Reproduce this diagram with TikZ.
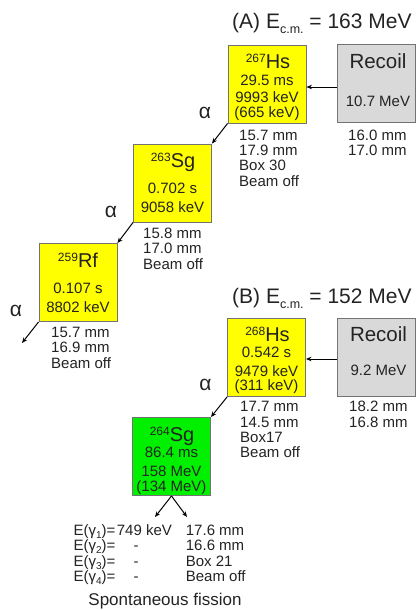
\documentclass[tikz,border=0pt]{standalone}
\usepackage{fontspec}
\setmainfont{Liberation Sans}
\usetikzlibrary{arrows.meta}
\definecolor{boxyellow}{RGB}{255,255,0}
\definecolor{boxgreen}{RGB}{0,240,0}
\definecolor{recoilgray}{RGB}{217,217,217}
\definecolor{edgegray}{RGB}{115,115,115}
\definecolor{txt}{RGB}{35,35,35}
\newcommand{\isot}[2]{\raisebox{6pt}{\fontsize{12}{12}\selectfont #1}#2}
\newcommand{\gam}[1]{E(γ\raisebox{-3pt}{\fontsize{10}{10}\selectfont #1})=}
\begin{document}
\begin{tikzpicture}[x=1pt,y=-1pt,
  nuc/.style={draw=edgegray,line width=0.9pt,minimum width=78pt,minimum height=78pt,inner sep=0pt},
  lbl/.style={anchor=base,inner sep=0pt,font=\fontsize{15}{15}\selectfont,text=txt},
  lblw/.style={anchor=base west,inner sep=0pt,font=\fontsize{15}{15}\selectfont,text=txt},
  big/.style={anchor=base,inner sep=0pt,font=\fontsize{20}{20}\selectfont,text=txt},
  titl/.style={anchor=base west,inner sep=0pt,font=\fontsize{21}{21}\selectfont,text=txt},
  alph/.style={inner sep=0pt,font=\fontsize{21}{21}\selectfont,text=txt},
  decay/.style={-{Stealth[length=5.5pt,width=4.5pt]},line width=1pt,black}]
\useasboundingbox (0,0) rectangle (419,610);

% ---------- (A) ----------
\node[titl] (titA) at (232,28.5) {(A) E\raisebox{-5pt}{\fontsize{12.5}{12.5}\selectfont c.m.} = 163 MeV};

\node[nuc,fill=boxyellow] (hsA) at (267,84) {};
\node[nuc,fill=recoilgray] (recA) at (376,83) {};
\node[nuc,fill=boxyellow] (sgA) at (172.5,183) {};
\node[nuc,fill=boxyellow] (rfA) at (78,282.5) {};

\node[big] (hsAn) at (268,68.3) {\isot{267}{Hs}};
\node[lbl] (hsAt) at (267,85) {29.5 ms};
\node[lbl] (hsAe) at (267,102.5) {9993 keV};
\node[lbl] (hsAg) at (267,117.2) {(665 keV)};
\node[lblw] (hsAo1) at (239,140) {15.7 mm};
\node[lblw] (hsAo2) at (239,155.4) {17.9 mm};
\node[lblw] (hsAo3) at (239,170.8) {Box 30};
\node[lblw] (hsAo4) at (239,186.2) {Beam off};

\node[big,font=\fontsize{20.5}{20.5}\selectfont] (recAn) at (378,68.3) {Recoil};
\node[lbl] (recAe) at (378,106.7) {10.7 MeV};
\node[lblw] (recAo1) at (348,140) {16.0 mm};
\node[lblw] (recAo2) at (348,155.4) {17.0 mm};

\node[big] (sgAn) at (173,167) {\isot{263}{Sg}};
\node[lbl] (sgAt) at (172.5,193) {0.702 s};
\node[lbl] (sgAe) at (172.5,212) {9058 keV};
\node[lblw] (sgAo1) at (143,238) {15.8 mm};
\node[lblw] (sgAo2) at (143,253.5) {17.0 mm};
\node[lblw] (sgAo3) at (143,269) {Beam off};

\node[big] (rfAn) at (78,267.7) {\isot{259}{Rf}};
\node[lbl] (rfAt) at (78,293) {0.107 s};
\node[lbl] (rfAe) at (78,312) {8802 keV};
\node[lblw] (rfAo1) at (51,337) {15.7 mm};
\node[lblw] (rfAo2) at (51,352.5) {16.9 mm};
\node[lblw] (rfAo3) at (51,368) {Beam off};

\node[alph] (alA1) at (205,112.5) {α};
\node[alph] (alA2) at (111,212) {α};
\node[alph] (alA3) at (16,311) {α};

\coordinate (rfOut) at (22,343);
\draw[decay] ([yshift=-4pt]recA.west) -- ([yshift=-3pt]hsA.east);
\draw[decay] (hsA.south west) -- (sgA.north east);
\draw[decay] (sgA.south west) -- (rfA.north east);
\draw[decay] (rfA.south west) -- (rfOut);

% ---------- (B) ----------
\node[titl] (titB) at (232,303) {(B) E\raisebox{-5pt}{\fontsize{12.5}{12.5}\selectfont c.m.} = 152 MeV};

\node[nuc,fill=boxyellow] (hsB) at (266.5,357.5) {};
\node[nuc,fill=recoilgray] (recB) at (376.5,357.5) {};
\node[nuc,fill=boxgreen] (sgB) at (171.5,456.5) {};

\node[big] (hsBn) at (267.5,341.7) {\isot{268}{Hs}};
\node[lbl] (hsBt) at (266.5,357.3) {0.542 s};
\node[lbl] (hsBe) at (266.5,376.2) {9479 keV};
\node[lbl] (hsBg) at (266.5,390.6) {(311 keV)};
\node[lblw] (hsBo1) at (240,411.7) {17.7 mm};
\node[lblw] (hsBo2) at (240,427.1) {14.5 mm};
\node[lblw] (hsBo3) at (240,442.5) {Box17};
\node[lblw] (hsBo4) at (240,457.9) {Beam off};

\node[big,font=\fontsize{20.5}{20.5}\selectfont] (recBn) at (378.5,341.7) {Recoil};
\node[lbl] (recBe) at (378.5,375) {9.2 MeV};
\node[lblw] (recBo1) at (349,411.7) {18.2 mm};
\node[lblw] (recBo2) at (349,427.1) {16.8 mm};

\node[big] (sgBn) at (172,441.7) {\isot{264}{Sg}};
\node[lbl] (sgBt) at (171.5,457.3) {86.4 ms};
\node[lbl] (sgBe) at (171.5,476.8) {158 MeV};
\node[lbl] (sgBg) at (171.5,491.2) {(134 MeV)};

\node[alph] (alB1) at (205.5,385) {α};

\draw[decay] ([yshift=-1.5pt]recB.west) -- ([yshift=-1.5pt]hsB.east);
\draw[decay] (hsB.south west) -- (sgB.north east);

\coordinate (fisL) at (155,517);
\coordinate (fisR) at (187,517);
\draw[decay] (sgB.south) -- (fisL);
\draw[decay] (sgB.south) -- (fisR);

\node[lblw] (g1) at (73.3,535) {\gam{1}};
\node[lblw] (g2) at (73.3,550.5) {\gam{2}};
\node[lblw] (g3) at (73.3,566) {\gam{3}};
\node[lblw] (g4) at (73.3,581.5) {\gam{4}};
\node[lblw] (g1v) at (116.7,535) {749 keV};
\node[lbl] (g2v) at (136,550.5) {-};
\node[lbl] (g3v) at (136,566) {-};
\node[lbl] (g4v) at (136,581.5) {-};
\node[lblw] (fo1) at (185.7,535) {17.6 mm};
\node[lblw] (fo2) at (185.7,550.5) {16.6 mm};
\node[lblw] (fo3) at (185.7,566) {Box 21};
\node[lblw] (fo4) at (185.7,581.5) {Beam off};
\node[anchor=base,inner sep=0pt,font=\fontsize{17}{17}\selectfont,text=txt] (sf) at (165,605) {Spontaneous fission};
\end{tikzpicture}
\end{document}
